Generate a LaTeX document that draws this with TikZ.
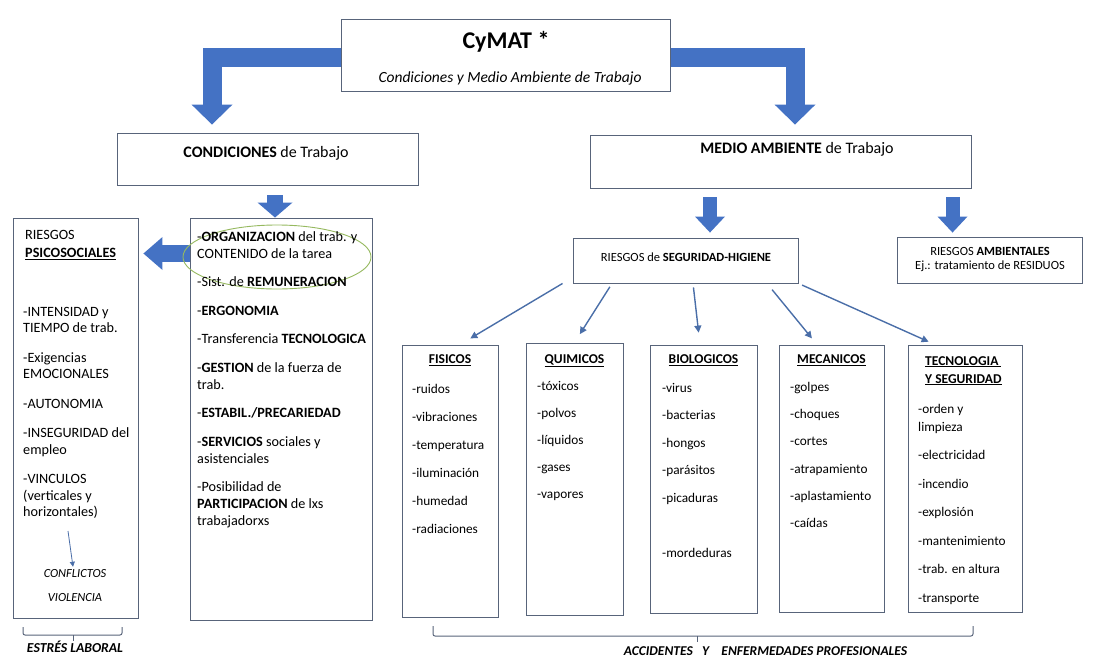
\documentclass[tikz,border=0pt]{standalone}
\usepackage{fontspec}
\setmainfont{Carlito}
\usetikzlibrary{arrows.meta,shapes.geometric,positioning,backgrounds}

\definecolor{arrowblue}{RGB}{68,114,196}
\definecolor{linkblue}{RGB}{74,110,168}
\definecolor{boxgray}{RGB}{88,100,122}
\definecolor{ovalgreen}{RGB}{150,185,95}

\newcommand*{\bodyfont}{\fontsize{14.2}{17}\selectfont}
\newcommand*{\itemgap}{11.5pt}

\begin{document}
\begin{tikzpicture}
[
	x=1pt, y=-1pt,
	box/.style={draw=boxgray,fill=white,line width=0.9pt,inner sep=0pt},
	txt/.style={inner sep=0pt,font=\bodyfont},
	lst/.style={txt,align=left,anchor=north west,execute at begin node={\rule{0pt}{10pt}}},
	cattitle/.style={txt,font=\fontsize{13.5}{16}\selectfont\bfseries,anchor=base},
	blockarrow/.style n args={3}{draw=arrowblue,line width=#1,line join=miter,
		-{Triangle[width=#2,length=#3,line width=0pt]}},
	thinarrow/.style={draw=linkblue,line width=1.4pt,-{Triangle[length=7pt,width=7pt]}},
	bracket/.style={draw=boxgray,line width=1pt,rounded corners=2pt}
]
	\useasboundingbox (0,0) rectangle (1097,659);

	% boxes
	\node[box,minimum width=329pt,minimum height=72pt] (cymat) at (505.5,55) {};
	\node[box,minimum width=301pt,minimum height=52pt] (cond) at (267.5,159) {};
	\node[box,minimum width=381pt,minimum height=53pt] (medio) at (780.5,161.5) {};
	\node[box,minimum width=125pt,minimum height=400pt] (psico) at (75.5,418) {};
	\node[box,minimum width=182pt,minimum height=402pt] (org) at (281,419) {};
	\node[box,minimum width=225pt,minimum height=45pt] (sh) at (685.5,260.5) {};
	\node[box,minimum width=185pt,minimum height=46pt] (amb) at (989.5,260) {};
	\node[box,minimum width=96pt,minimum height=272pt] (fis) at (450,481) {};
	\node[box,minimum width=97pt,minimum height=272pt] (qui) at (574.5,479) {};
	\node[box,minimum width=107pt,minimum height=268pt] (bio) at (703.5,479) {};
	\node[box,minimum width=105pt,minimum height=267pt] (mec) at (831.5,478.5) {};
	\node[box,minimum width=114pt,minimum height=267pt] (tec) at (965,478.5) {};

	% block arrows
	\begin{pgfonlayer}{background}
	\draw[blockarrow={19pt}{41pt}{20pt},shorten >=8pt]
		([yshift=-2.5pt]cymat.west) -| ([xshift=-55.5pt]cond.north);
	\draw[blockarrow={19pt}{41pt}{20pt},shorten >=10pt]
		([yshift=-2.5pt]cymat.east) -| ([xshift=14.5pt]medio.north);
	\end{pgfonlayer}
	\draw[blockarrow={16pt}{35pt}{15pt},shorten <=10pt]
		([xshift=7.5pt]cond.south) -- ([xshift=-6pt]org.north);
	\draw[blockarrow={14pt}{30pt}{16pt},shorten <=9pt,shorten >=5pt]
		([xshift=-70.5pt]medio.south) -- ([xshift=24.5pt]sh.north);
	\draw[blockarrow={14pt}{30pt}{16pt},shorten <=9pt,shorten >=4pt]
		([xshift=172pt]medio.south) -- ([xshift=-37pt]amb.north);
	\draw[blockarrow={17pt}{33pt}{19pt},shorten >=5pt]
		([yshift=165.5pt]org.west) -- ([yshift=164.5pt]psico.east);

	% highlight
	\node[ellipse,draw=ovalgreen,line width=0.9pt,minimum width=188pt,minimum height=64pt] (hl) at (277,257) {};

	% titles
	\node[txt,anchor=base,font=\fontsize{24}{28}\selectfont\bfseries] (cymatt) at (506,48) {CyMAT *};
	\node[txt,anchor=base,font=\fontsize{15.5}{18}\selectfont\itshape] (cymats) at (510,82) {Condiciones y Medio Ambiente de Trabajo};
	\node[txt,anchor=base,font=\fontsize{16}{19}\selectfont] (condt) at (266,157) {\textbf{CONDICIONES} de Trabajo};
	\node[txt,anchor=base,font=\fontsize{16}{19}\selectfont] (mediot) at (797,153) {\textbf{MEDIO AMBIENTE} de Trabajo};
	\node[txt,anchor=base,font=\fontsize{12.5}{15}\selectfont] (sht) at (686,261) {RIESGOS de \textbf{SEGURIDAD-HIGIENE}};
	\node[lst,align=center,anchor=north,font=\fontsize{12.5}{14.5}\selectfont] (ambt) at (990,247)
		{RIESGOS \textbf{AMBIENTALES}\\Ej.: tratamiento de RESIDUOS};

	% riesgos psicosociales
	\node[lst,font=\fontsize{14.2}{18}\selectfont] (psicot) at (25,230) {RIESGOS\\\underline{\textbf{PSICOSOCIALES}}};
	\node[lst,font=\fontsize{14.2}{16.5}\selectfont] (psicol) at (23,307) {-INTENSIDAD y\\TIEMPO de trab.\\[13pt]-Exigencias\\EMOCIONALES\\[13pt]-AUTONOMIA\\[13pt]-INSEGURIDAD del\\empleo\\[13pt]-VINCULOS\\(verticales y\\horizontales)};
	\coordinate (vinc) at (68,531);
	\node[txt,anchor=base,font=\fontsize{12.4}{14}\selectfont\itshape] (confl) at (75,577) {CONFLICTOS};
	\node[txt,anchor=base,font=\fontsize{12.4}{14}\selectfont\itshape] (viol) at (75,601) {VIOLENCIA};
	\draw[draw=linkblue,line width=0.8pt,-{Triangle[length=5pt,width=5pt]}] (vinc) -- ([xshift=-2pt,yshift=2pt]confl.north);

	% organizacion
	\node[lst] (orgl) at (197,231) {-\textbf{ORGANIZACION} del trab. y\\CONTENIDO de la tarea\\[\itemgap]-Sist. de \textbf{REMUNERACION}\\[\itemgap]-\textbf{ERGONOMIA}\\[\itemgap]-Transferencia \textbf{TECNOLOGICA}\\[\itemgap]-\textbf{GESTION} de la fuerza de\\trab.\\[\itemgap]-\textbf{ESTABIL./PRECARIEDAD}\\[\itemgap]-\textbf{SERVICIOS} sociales y\\asistenciales\\[\itemgap]-Posibilidad de\\\textbf{PARTICIPACION} de lxs\\trabajadorxs};

	% links to the risk groups
	\draw[thinarrow,shorten >=12pt] ([xshift=-10pt]sh.south west) -- ([xshift=10pt]fis.north);
	\draw[thinarrow,shorten <=4pt,shorten >=10pt] ([xshift=-73.5pt]sh.south) -- (qui.north);
	\draw[thinarrow,shorten <=4pt,shorten >=12pt] ([xshift=7.5pt]sh.south) -- ([xshift=-3.5pt]bio.north);
	\draw[thinarrow,shorten <=8pt,shorten >=8pt] ([xshift=81.5pt]sh.south) -- ([xshift=-14.5pt]mec.north);
	\draw[thinarrow,shorten <=4pt,shorten >=7pt] (sh.south east) -- ([xshift=-30pt]tec.north);

	% risk groups
	\node[cattitle] (fist) at ([yshift=-19pt]fis.north) {\underline{FISICOS}};
	\node[lst,font=\fontsize{13.3}{28}\selectfont] (fisl) at (412,384) {-ruidos\\-vibraciones\\-temperatura\\-iluminación\\-humedad\\-radiaciones};
	\node[cattitle] (quit) at ([yshift=-21pt]qui.north) {\underline{QUIMICOS}};
	\node[lst,font=\fontsize{13.3}{27}\selectfont] (quil) at (537,381) {-tóxicos\\-polvos\\-líquidos\\-gases\\-vapores};
	\node[cattitle] (biot) at ([yshift=-19pt]bio.north) {\underline{BIOLOGICOS}};
	\node[lst,font=\fontsize{13.3}{27.5}\selectfont] (biol) at (662,383) {-virus\\-bacterias\\-hongos\\-parásitos\\-picaduras\\[27.5pt]-mordeduras};
	\node[cattitle] (mect) at ([yshift=-19pt]mec.north) {\underline{MECANICOS}};
	\node[lst,font=\fontsize{13.3}{27.2}\selectfont] (mecl) at (790,382) {-golpes\\-choques\\-cortes\\-atrapamiento\\-aplastamiento\\-caídas};
	\node[lst,font=\fontsize{13.5}{18}\selectfont\bfseries] (tect) at (925,356) {\underline{TECNOLOGIA\ }\\\underline{Y SEGURIDAD}};
	\node[lst,font=\fontsize{13.3}{18}\selectfont] (tecl) at (918,404) {-orden y\\limpieza\\[10.5pt]-electricidad\\[10.5pt]-incendio\\[10.5pt]-explosión\\[10.5pt]-mantenimiento\\[10.5pt]-trab. en altura\\[10.5pt]-transporte};

	% brackets
	\draw[bracket] (23,627) |- (122,635) -- (122,627);
	\draw[bracket,rounded corners=0pt] (73,635) -- (73,641);
	\node[txt,anchor=base,font=\fontsize{13.7}{16}\selectfont\bfseries\itshape] (estres) at (75,652) {ESTRÉS LABORAL};
	\draw[bracket] (433,626) |- (973,636) -- (973,626);
	\draw[bracket,rounded corners=0pt] (697,636) -- (697,642);
	\node[txt,anchor=base east,font=\fontsize{13.5}{16}\selectfont\bfseries\itshape] (accid) at (693,655) {ACCIDENTES};
	\node[txt,anchor=base west,font=\fontsize{13.5}{16}\selectfont\bfseries\itshape] (enfer) at (702,655) {Y\ \ \ \ ENFERMEDADES PROFESIONALES};

\end{tikzpicture}
\end{document}
